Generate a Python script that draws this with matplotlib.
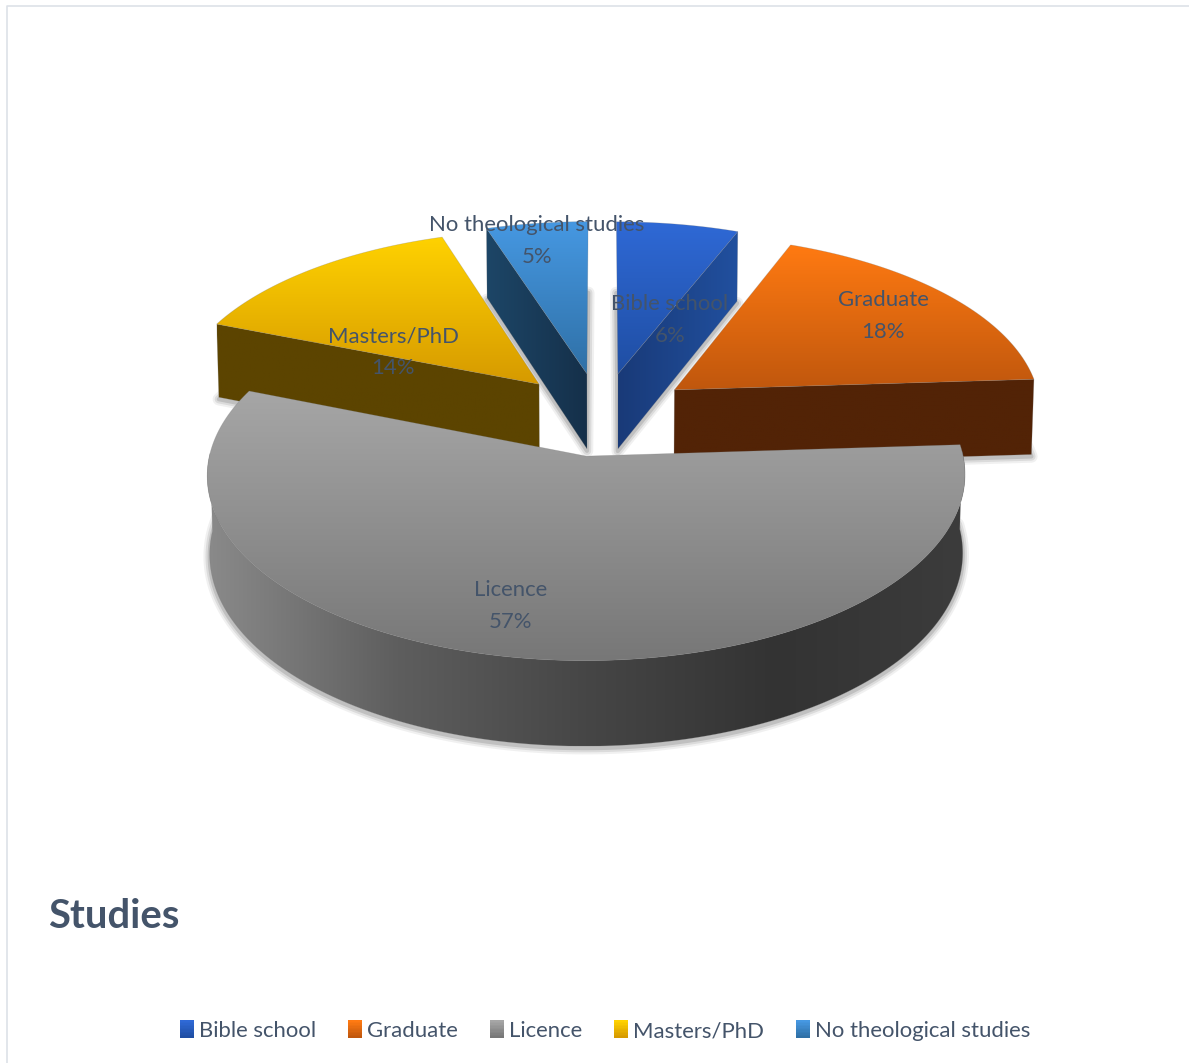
import numpy as np
import matplotlib
matplotlib.use("Agg")
import matplotlib.pyplot as plt
from matplotlib.colors import LinearSegmentedColormap
from matplotlib.legend_handler import HandlerBase
from matplotlib.patches import Patch, Polygon, Rectangle

CATEGORIES = ["Bible school", "Graduate", "Licence", "Masters/PhD", "No theological studies"]
PERCENTS = [6, 18, 57, 14, 5]
TITLE = "Studies"

# face colours for each slice
TOP_COLORS = [("#2F69D6", "#1F4EA3"), ("#FF7A12", "#C0570D"), ("#A6A6A6", "#777777"),
              ("#FFD200", "#D69A00"), ("#4698E2", "#2F70A6")]
CUT_COLORS = [("#193A78", "#21509F"), ("#522306", "#522306"), ("#555555", "#555555"),
              ("#5C4400", "#5C4400"), ("#1D4667", "#15304A")]
RIM_COLORS = ["#8A8A8A", "#5E5E5E", "#464646", "#333333", "#3C3C3C"]
TEXT_COLOR = "#44546A"

# label anchor per slice, in figure pixels
LABEL_XY = [(670, 320), (883, 316), (511, 606), (393, 352), (537, 241)]

# projection of the pie plane
CX, CY = 601, 414
A, B, D = 368, 175, 77
P, Q = 0.1, 0.006
EXPLODE_U, EXPLODE_V = 0.25, 0.238
FONT = "Lato"


def project(u, v, z):
    w = 1 + P * v + Q * z
    return CX + A * u / w, CY - (B * v - D * z) / w


def points(u, v, z):
    x, y = project(np.asarray(u, float), np.asarray(v, float), z)
    return np.column_stack([x, y])


def fill_gradient(ax, pts, colors, zorder, vertical=True):
    cmap = LinearSegmentedColormap.from_list("face", colors)
    ramp = np.linspace(0, 1, 256)
    ramp = ramp[:, None] if vertical else ramp[None, :]
    x0, x1 = pts[:, 0].min(), pts[:, 0].max()
    y0, y1 = pts[:, 1].min(), pts[:, 1].max()
    img = ax.imshow(ramp, cmap=cmap, extent=(x0, x1, y1, y0), aspect="auto",
                    interpolation="bilinear", zorder=zorder)
    edge = Polygon(pts, closed=True, fill=False, edgecolor="none", transform=ax.transData)
    ax.add_patch(edge)
    img.set_clip_path(edge)
    # thin outline keeps the clipped edge smooth
    ax.add_patch(Polygon(pts, closed=True, fill=False, edgecolor="#777777", lw=0.5,
                         alpha=0.3, zorder=zorder + 0.01))


class GradientSwatch(HandlerBase):
    def create_artists(self, legend, orig, xd, yd, width, height, fontsize, trans):
        cmap = LinearSegmentedColormap.from_list("swatch", orig.gradient)
        steps = 12
        boxes = []
        for i in range(steps):
            y = -yd + height * 1.2 * (1 - (i + 1) / steps) - height * 0.1
            boxes.append(Rectangle((-xd, y), width, height * 1.2 / steps + 0.2,
                                   facecolor=cmap(i / (steps - 1)), edgecolor="none",
                                   transform=trans))
        return boxes


fig = plt.figure(figsize=(11.89, 10.63), dpi=100)
ax = fig.add_axes([0, 0, 1, 1])

fractions = np.array(PERCENTS) / sum(PERCENTS)
edges = np.concatenate([[0], np.cumsum(fractions)]) * 2 * np.pi
mids = (edges[:-1] + edges[1:]) / 2

# back slices first so the front ones overlap them
order = np.argsort(-np.cos(mids))
for n, i in enumerate(order):
    base = 10 + n * 2
    a0, a1 = edges[i], edges[i + 1]
    ox, oy = EXPLODE_U * np.sin(mids[i]), EXPLODE_V * np.cos(mids[i])
    arc = np.linspace(a0, a1, 200)
    ux, vy = ox + np.sin(arc), oy + np.cos(arc)

    # soft shadow under the slice
    floor = points(np.r_[ox, ux], np.r_[oy, vy], 1) + [0, 2]
    for lw, alpha in [(9, 0.07), (6, 0.11), (3, 0.16)]:
        ax.add_patch(Polygon(floor, closed=True, facecolor="none", edgecolor="#333333",
                             lw=lw, alpha=alpha, joinstyle="round", zorder=base))

    # radial cut faces that look towards the viewer
    if np.sin(a0) < -1e-6:
        face = np.vstack([points([ox, ox + np.sin(a0)], [oy, oy + np.cos(a0)], 0),
                          points([ox + np.sin(a0), ox], [oy + np.cos(a0), oy], 1)])
        fill_gradient(ax, face, CUT_COLORS[i], base + 0.2, vertical=False)
    if np.sin(a1) > 1e-6:
        face = np.vstack([points([ox, ox + np.sin(a1)], [oy, oy + np.cos(a1)], 0),
                          points([ox + np.sin(a1), ox], [oy + np.cos(a1), oy], 1)])
        fill_gradient(ax, face, CUT_COLORS[i], base + 0.2, vertical=False)

    # curved outer wall
    front = np.cos(arc) < 0.03
    if front.any():
        wall = np.vstack([points(ux[front], vy[front], 0),
                          points(ux[front][::-1], vy[front][::-1], 1)])
        fill_gradient(ax, wall, RIM_COLORS, base + 0.4, vertical=False)

    top = points(np.r_[ox, ux], np.r_[oy, vy], 0)
    fill_gradient(ax, top, TOP_COLORS[i], base + 0.6)

for name, pct, (x, y) in zip(CATEGORIES, PERCENTS, LABEL_XY):
    ax.text(x, y, f"{name}\n{pct}%", ha="center", va="center", color=TEXT_COLOR,
            fontsize=15.9, family=FONT, linespacing=1.7, zorder=40)

ax.text(48, 917, TITLE, ha="left", va="center", color=TEXT_COLOR, fontsize=28.8,
        family=FONT, fontweight="bold", zorder=40)

# frame only shows along the top and left of the canvas
ax.plot([7, 7, 1189], [1063, 6, 6], color="#DDE1E8", lw=1.2, zorder=1)

handles = []
for name, colors in zip(CATEGORIES, TOP_COLORS):
    h = Patch(label=name)
    h.gradient = colors
    handles.append(h)
ax.set_xlim(0, 1189)
ax.set_ylim(1063, 0)
ax.axis("off")
ax.legend(handles=handles, loc="center", bbox_to_anchor=(605.5, 1031),
          bbox_transform=ax.transData, ncol=5, frameon=False, labelcolor=TEXT_COLOR,
          prop={"family": FONT, "size": 15.9}, handlelength=0.63, handleheight=0.63,
          handletextpad=0.23, columnspacing=1.45, borderpad=0,
          handler_map={Patch: GradientSwatch()})

fig.savefig("out.png", dpi=100, facecolor="white")
plt.close(fig)
